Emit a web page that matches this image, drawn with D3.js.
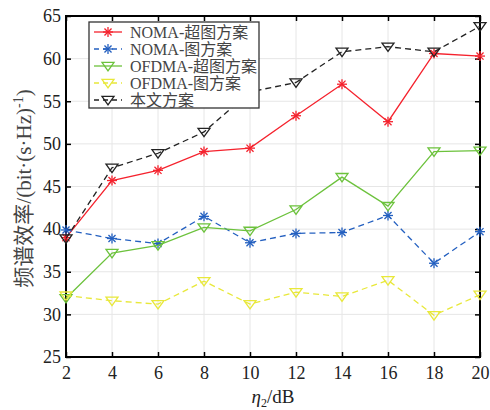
<!DOCTYPE html>
<html>
<head>
<meta charset="utf-8">
<script src="https://cdn.jsdelivr.net/npm/d3@7"></script>
<style>
body { margin: 0; background: #fff; }
text { font-family: "Liberation Serif", "Noto Sans CJK SC", serif; }
</style>
</head>
<body>
<div class="chart"></div>
<script>
var xs = [2, 4, 6, 8, 10, 12, 14, 16, 18, 20]
var nomaHyper = [39.0, 45.7, 46.9, 49.1, 49.5, 53.3, 57.0, 52.6, 60.6, 60.3]
var nomaGraph = [39.9, 38.9, 38.3, 41.5, 38.4, 39.5, 39.6, 41.6, 36.0, 39.7]
var ofdmaHyper = [31.9, 37.2, 38.1, 40.2, 39.8, 42.3, 46.1, 42.7, 49.1, 49.2]
var ofdmaGraph = [32.2, 31.6, 31.2, 33.9, 31.2, 32.6, 32.1, 34.0, 29.9, 32.3]
var proposed = [38.9, 47.2, 48.9, 51.4, 56.1, 57.2, 60.8, 61.4, 60.8, 63.8]
var yTicks = [25, 30, 35, 40, 45, 50, 55, 60, 65]
var names = ['NOMA-超图方案', 'NOMA-图方案', 'OFDMA-超图方案', 'OFDMA-图方案', '本文方案']

var series = [
  {name: names[0], vals: nomaHyper, color: '#f5222d', dash: null, marker: 'star'},
  {name: names[1], vals: nomaGraph, color: '#2460c0', dash: '6,4', marker: 'star'},
  {name: names[2], vals: ofdmaHyper, color: '#6cc23c', dash: null, marker: 'tri'},
  {name: names[3], vals: ofdmaGraph, color: '#e8e83a', dash: '6,4', marker: 'tri'},
  {name: names[4], vals: proposed, color: '#222', dash: '6,4', marker: 'tri'}
]

const svg = d3.select('.chart').append('svg')
  .attr('width', 490).attr('height', 410)

const pl = 66, pr = 480, pt = 16, pb = 357
const x = d3.scaleLinear().domain([2, 20]).range([pl, pr])
const y = d3.scaleLinear().domain([25, 65]).range([pb, pt])

// grid
svg.selectAll('.gx').data(xs).enter().append('line')
  .attr('x1', d => x(d)).attr('x2', d => x(d)).attr('y1', pt).attr('y2', pb)
  .attr('stroke', '#e6e6e6').attr('stroke-width', 1)
svg.selectAll('.gy').data(yTicks).enter().append('line')
  .attr('y1', d => y(d)).attr('y2', d => y(d)).attr('x1', pl).attr('x2', pr)
  .attr('stroke', '#e6e6e6').attr('stroke-width', 1)

// axes
const axB = svg.append('g').attr('transform', `translate(0,${pb})`)
  .call(d3.axisBottom(x).tickValues(xs).tickSize(-5).tickPadding(8))
const axL = svg.append('g').attr('transform', `translate(${pl},0)`)
  .call(d3.axisLeft(y).tickValues(yTicks).tickSize(-5).tickPadding(5))
const axT = svg.append('g').attr('transform', `translate(0,${pt})`)
  .call(d3.axisTop(x).tickValues(xs).tickSize(-5).tickFormat(''))
const axR = svg.append('g').attr('transform', `translate(${pr},0)`)
  .call(d3.axisRight(y).tickValues(yTicks).tickSize(-5).tickFormat(''))
;[axB, axL, axT, axR].forEach(a => {
  a.select('.domain').remove()
  a.selectAll('line').attr('stroke', '#000').attr('stroke-width', 1.5)
  a.selectAll('text').attr('font-size', 18).attr('fill', '#222')
    .style('font-family', '"Liberation Serif", serif')
})
axB.selectAll('text').attr('dy', '0.75em')

svg.append('rect').attr('x', pl).attr('y', pt)
  .attr('width', pr - pl).attr('height', pb - pt)
  .attr('fill', 'none').attr('stroke', '#000').attr('stroke-width', 2)

function drawMarker(g, cx, cy, s) {
  if (s.marker === 'star') {
    var r = 5
    var p = g.append('g').attr('transform', `translate(${cx},${cy})`)
      .attr('stroke', s.color).attr('stroke-width', 1.3)
    ;[0, 45, 90, 135].forEach(a => {
      var rad = a * Math.PI / 180
      p.append('line')
        .attr('x1', -r * Math.cos(rad)).attr('y1', -r * Math.sin(rad))
        .attr('x2', r * Math.cos(rad)).attr('y2', r * Math.sin(rad))
    })
  } else {
    var r = 6
    g.append('path')
      .attr('d', `M${cx - r},${cy - r * 0.6}L${cx + r},${cy - r * 0.6}L${cx},${cy + r * 0.8}Z`)
      .attr('fill', 'none').attr('stroke', s.color).attr('stroke-width', 1.3)
  }
}

const line = d3.line().x((d, i) => x(xs[i])).y(d => y(d))
series.forEach(s => {
  svg.append('path').datum(s.vals)
    .attr('d', line)
    .attr('fill', 'none').attr('stroke', s.color).attr('stroke-width', 1.3)
    .attr('stroke-dasharray', s.dash)
  var g = svg.append('g')
  s.vals.forEach((v, i) => drawMarker(g, x(xs[i]), y(v), s))
})

// legend
const lg = svg.append('g')
lg.append('rect').attr('x', 89).attr('y', 22).attr('width', 170).attr('height', 86)
  .attr('fill', '#fff').attr('stroke', '#333').attr('stroke-width', 1.3)
series.forEach((s, i) => {
  var ly = 32 + i * 17
  lg.append('line').attr('x1', 94).attr('x2', 122).attr('y1', ly).attr('y2', ly)
    .attr('stroke', s.color).attr('stroke-width', 1.3)
    .attr('stroke-dasharray', s.dash ? '5,4' : null)
  drawMarker(lg, 108, ly, s)
  lg.append('text').attr('x', 130).attr('y', ly + 5.5)
    .attr('font-size', 16).attr('fill', '#444').text(s.name)
})

// axis labels
svg.append('text')
  .attr('transform', `translate(31,${(pt + pb) / 2 + 2}) rotate(-90)`)
  .attr('text-anchor', 'middle').attr('font-size', 21).attr('fill', '#444')
  .html('频谱效率/(bit·(s·Hz)<tspan dy="-8" font-size="14">-1</tspan><tspan dy="8">)</tspan>')

svg.append('text').attr('x', (pl + pr) / 2).attr('y', 403)
  .attr('text-anchor', 'middle').attr('font-size', 19).attr('fill', '#222')
  .html('<tspan font-style="italic">η</tspan><tspan font-size="12" dy="4">2</tspan><tspan dy="-4">/dB</tspan>')
</script>
</body>
</html>
